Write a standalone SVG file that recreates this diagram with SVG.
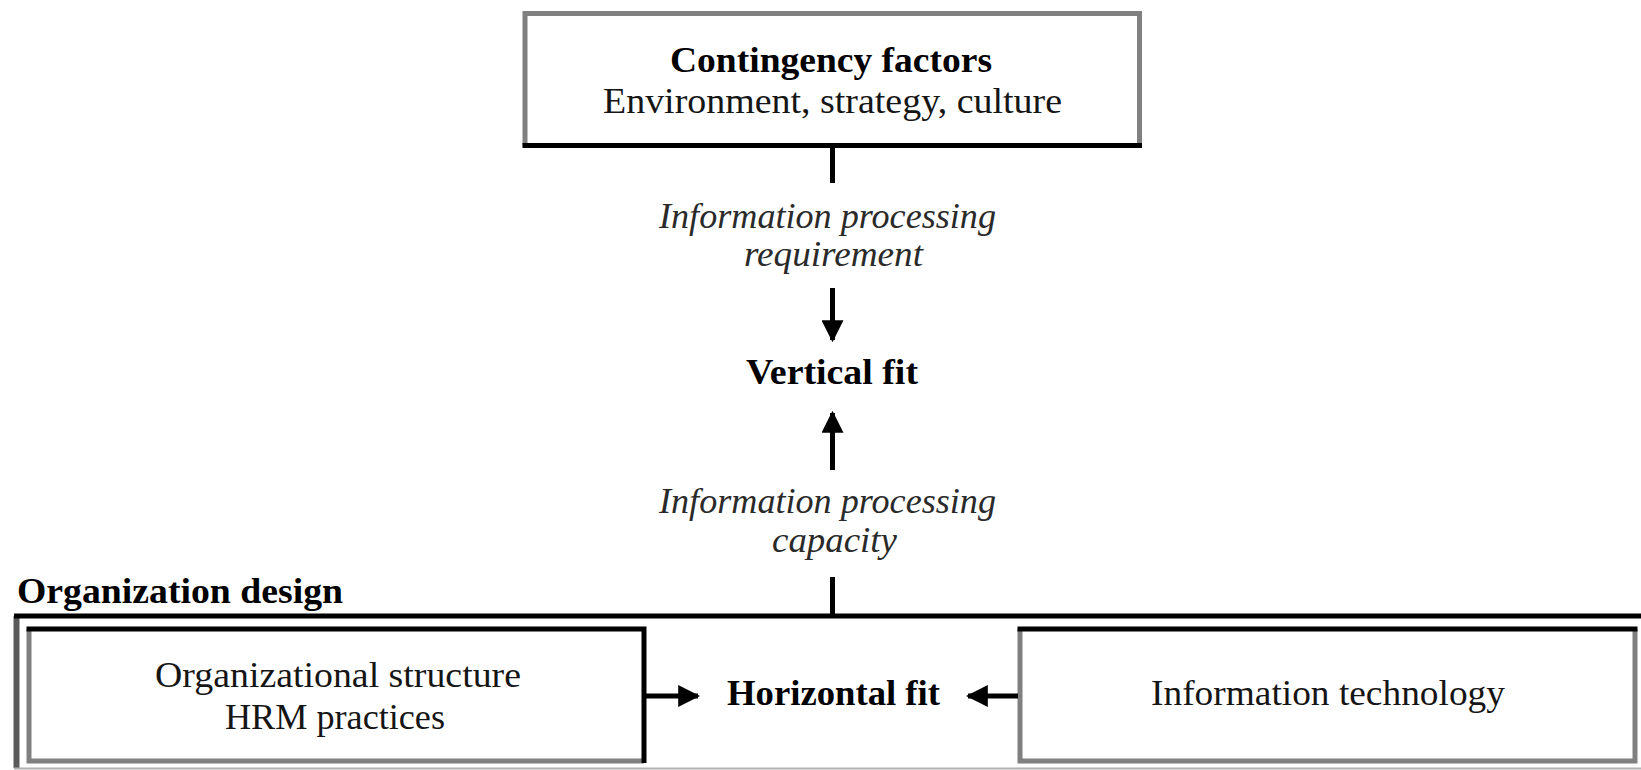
<svg xmlns="http://www.w3.org/2000/svg" width="1641" height="770" viewBox="0 0 1641 770">
  <style>
    .t { font-family: "Liberation Serif", "Times New Roman", serif; font-size: 36px; fill: #151515; }
    .b { font-weight: bold; fill: #000; }
    .i { font-style: italic; fill: #2a2a2a; }
    .edge-g { stroke: #808080; stroke-width: 5; fill: none; }
    .edge-k { stroke: #000; stroke-width: 5; fill: none; }
    .conn { stroke: #000; stroke-width: 5; fill: none; }
  </style>
  <defs>
    <marker id="head" viewBox="0 0 10 10" refX="9" refY="5" markerWidth="4.4" markerHeight="4.4" markerUnits="strokeWidth" orient="auto">
      <path d="M0,0 L10,5 L0,10 z" fill="#000"/>
    </marker>
  </defs>
  <rect width="1641" height="770" fill="#fff"/>

  <!-- Contingency factors box -->
  <g id="contingency">
    <path class="edge-g" d="M525,145 V13.5 H1139.5 V145"/>
    <path class="edge-k" d="M522.5,145.5 H1142"/>
    <text class="t b" x="670" y="72" textLength="322" lengthAdjust="spacingAndGlyphs">Contingency factors</text>
    <text class="t" x="603" y="113" textLength="459" lengthAdjust="spacingAndGlyphs">Environment, strategy, culture</text>
  </g>

  <!-- Vertical fit label -->
  <g id="vertical-fit">
    <text class="t b" x="746" y="384" textLength="172" lengthAdjust="spacingAndGlyphs">Vertical fit</text>
  </g>

  <!-- Edge labels -->
  <g id="requirement-label">
    <text class="t i" x="659" y="228" textLength="337" lengthAdjust="spacingAndGlyphs">Information processing</text>
    <text class="t i" x="744" y="266" textLength="179" lengthAdjust="spacingAndGlyphs">requirement</text>
  </g>
  <g id="capacity-label">
    <text class="t i" x="659" y="513" textLength="337" lengthAdjust="spacingAndGlyphs">Information processing</text>
    <text class="t i" x="772" y="552" textLength="125" lengthAdjust="spacingAndGlyphs">capacity</text>
  </g>

  <!-- Organization design container -->
  <g id="organization-design">
    <text class="t b" x="17" y="603" textLength="326" lengthAdjust="spacingAndGlyphs">Organization design</text>
    <path d="M16.5,768 V616" stroke="#5a5a5a" stroke-width="6" fill="none"/>
    <path class="edge-k" d="M14,616 H1641"/>
    <path d="M14,768.5 H1641" stroke="#b0b0b0" stroke-width="2" fill="none"/>
  </g>

  <!-- Organizational structure / HRM box -->
  <g id="structure">
    <path class="edge-g" d="M29,629 V761 H644"/>
    <path class="edge-k" d="M26.5,629 H644 V763"/>
    <text class="t" x="155" y="687" textLength="366" lengthAdjust="spacingAndGlyphs">Organizational structure</text>
    <text class="t" x="225" y="729" textLength="220" lengthAdjust="spacingAndGlyphs">HRM practices</text>
  </g>

  <!-- Horizontal fit label -->
  <g id="horizontal-fit">
    <text class="t b" x="727" y="705" textLength="213" lengthAdjust="spacingAndGlyphs">Horizontal fit</text>
  </g>

  <!-- Information technology box -->
  <g id="technology">
    <path class="edge-g" d="M1020,629 V761 H1635 V629"/>
    <path class="edge-k" d="M1017.5,629 H1637.5"/>
    <text class="t" x="1151" y="705" textLength="354" lengthAdjust="spacingAndGlyphs">Information technology</text>
  </g>

  <!-- Connectors -->
  <g id="connectors">
    <path class="conn" d="M832.5,147 V183"/>
    <path class="conn" d="M832.5,288 V340" marker-end="url(#head)"/>
    <path class="conn" d="M832.5,470 V413" marker-end="url(#head)"/>
    <path class="conn" d="M832.5,577 V616"/>
    <path class="conn" d="M646,696 H698" marker-end="url(#head)"/>
    <path class="conn" d="M1018,696 H968" marker-end="url(#head)"/>
  </g>
</svg>
